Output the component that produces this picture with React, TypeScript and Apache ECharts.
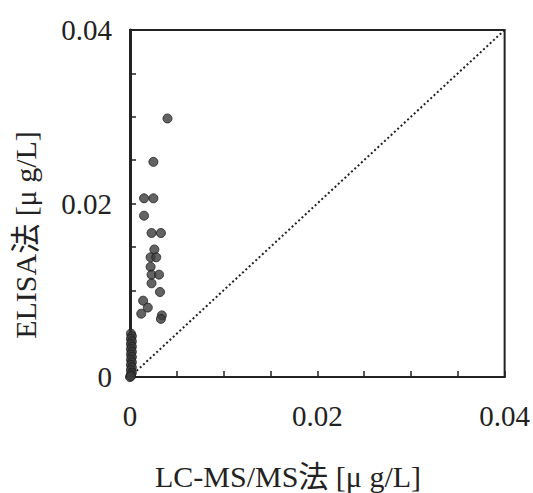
import React, { useEffect, useRef } from "react";
import * as echarts from "echarts";

// LC-MS/MS method values (x) and ELISA method values (y), μg/L
const lcmsValues: number[] = [
  0.0040, 0.0025, 0.0015, 0.0025, 0.0015, 0.0023, 0.0033, 0.0026, 0.0022, 0.0028,
  0.0022, 0.0023, 0.0031, 0.0023, 0.0032, 0.0014, 0.0019, 0.0012, 0.0034, 0.0033,
  0.0001, 0.0002, 0.0001, 0.0002, 0.0001, 0.0002, 0.0001, 0.0002, 0.0001, 0.0002,
  0.0001, 0.0002, 0.0001, 0.0002, 0.0001, 0.0002, 0.0001, 0.0000, 0.0001,
];
const elisaValues: number[] = [
  0.0298, 0.0248, 0.0206, 0.0206, 0.0186, 0.0166, 0.0166, 0.0147, 0.0138, 0.0138,
  0.0127, 0.0118, 0.0118, 0.0108, 0.0098, 0.0088, 0.0080, 0.0073, 0.0071, 0.0067,
  0.0050, 0.0047, 0.0044, 0.0041, 0.0038, 0.0035, 0.0032, 0.0029, 0.0026, 0.0023,
  0.0020, 0.0017, 0.0014, 0.0011, 0.0008, 0.0005, 0.0003, 0.0000, 0.0001,
];
const identityLine: number[][] = [
  [0, 0],
  [0.04, 0.04],
];
const axisMin = 0;
const axisMax = 0.04;
const tickStep = 0.005;
const labelStep = 0.02;
const xTitle = "LC-MS/MS法 [μ g/L]";
const yTitle = "ELISA法 [μ g/L]";

const FONT = "'Liberation Serif', 'Noto Sans CJK JP', serif";
const TICK_SIZE = 29;
const TITLE_SIZE = 30;

function fmt(v: number): string {
  const r = v / labelStep;
  if (Math.abs(r - Math.round(r)) > 1e-6) return "";
  if (Math.abs(v) < 1e-9) return "0";
  return v.toFixed(2);
}

export default function App() {
  const ref = useRef<HTMLDivElement>(null);
  useEffect(() => {
    if (!ref.current) return;
    const chart = echarts.init(ref.current, undefined, { renderer: "svg" });
    const points = lcmsValues.map((x, i) => [x, elisaValues[i]]);
    const titleFont = `${TITLE_SIZE}px ${FONT}`;
    chart.setOption({
      animation: false,
      backgroundColor: "#ffffff",
      grid: {
        left: 130,
        right: 26,
        top: 30,
        bottom: 116,
        show: true,
        borderColor: "#222",
        borderWidth: 2,
      },
      graphic: [
        {
          type: "text",
          x: 288,
          y: 476,
          style: {
            text: xTitle,
            font: titleFont,
            fill: "#222",
            align: "center",
            verticalAlign: "middle",
            textAlign: "center",
            textVerticalAlign: "middle",
          },
        },
        {
          type: "text",
          x: 25,
          y: 235,
          rotation: Math.PI / 2,
          style: {
            text: yTitle,
            font: titleFont,
            fill: "#222",
            align: "center",
            verticalAlign: "middle",
            textAlign: "center",
            textVerticalAlign: "middle",
          },
        },
      ],
      xAxis: {
        type: "value",
        min: axisMin,
        max: axisMax,
        interval: tickStep,
        axisLine: { show: true, lineStyle: { color: "#222", width: 2 } },
        axisTick: { show: true, inside: true, length: 6, lineStyle: { color: "#222", width: 1.5 } },
        axisLabel: {
          formatter: fmt,
          margin: 24,
          fontFamily: FONT,
          fontSize: TICK_SIZE,
          color: "#222",
        },
        splitLine: { show: false },
      },
      yAxis: {
        type: "value",
        min: axisMin,
        max: axisMax,
        interval: tickStep,
        axisLine: { show: true, lineStyle: { color: "#222", width: 3 } },
        axisTick: { show: true, inside: true, length: 6, lineStyle: { color: "#222", width: 1.5 } },
        axisLabel: {
          formatter: fmt,
          margin: 18,
          fontFamily: FONT,
          fontSize: TICK_SIZE,
          color: "#222",
        },
        splitLine: { show: false },
      },
      series: [
        {
          type: "line",
          data: identityLine,
          symbol: "none",
          lineStyle: { color: "#222", width: 2, type: [2, 2.5] },
          z: 1,
        },
        {
          type: "scatter",
          data: points,
          symbol: "circle",
          symbolSize: 9,
          itemStyle: { color: "#3c3c3c", borderColor: "#1e1e1e", borderWidth: 1 },
          z: 3,
        },
      ],
    });
    return () => chart.dispose();
  }, []);
  return (
    <div
      ref={ref}
      style={{ position: "fixed", left: 0, top: 0, width: 533, height: 493, background: "#fff" }}
    />
  );
}
